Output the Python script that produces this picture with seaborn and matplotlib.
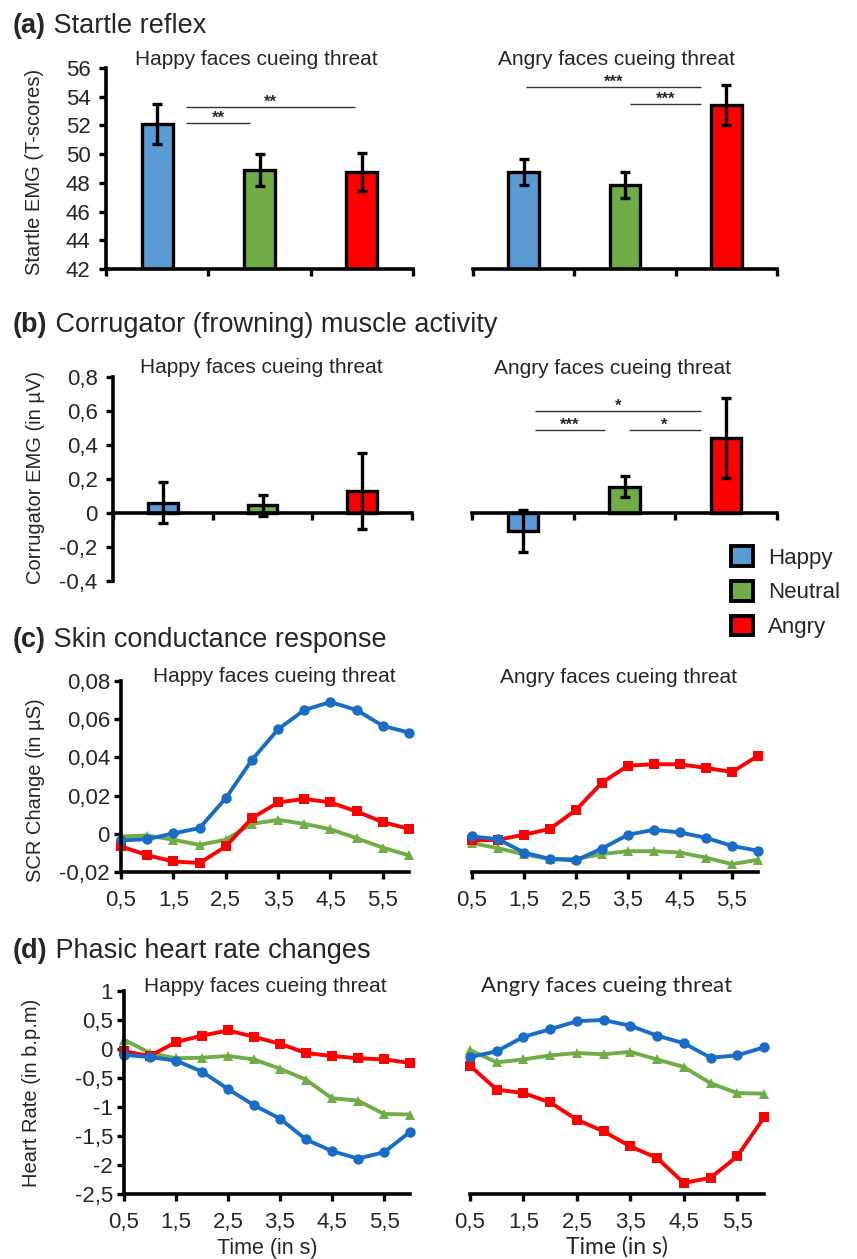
import pandas as pd
import matplotlib
matplotlib.use("Agg")
import matplotlib.pyplot as plt
import seaborn as sns
from matplotlib.patches import Patch
from matplotlib.ticker import FuncFormatter

conditions = ["Happy", "Neutral", "Angry"]

# (a) startle EMG (T-scores), mean and error
startle_happy = [52.1, 48.9, 48.75]
startle_happy_err = [1.4, 1.1, 1.3]
startle_angry = [48.75, 47.85, 53.4]
startle_angry_err = [0.9, 0.9, 1.4]

# (b) corrugator EMG (in µV)
corr_happy = [0.06, 0.045, 0.13]
corr_happy_err = [0.12, 0.06, 0.225]
corr_angry = [-0.105, 0.155, 0.44]
corr_angry_err = [0.125, 0.062, 0.235]

time_s = [0.5, 1.0, 1.5, 2.0, 2.5, 3.0, 3.5, 4.0, 4.5, 5.0, 5.5, 6.0]

# (c) SCR change, happy faces cueing threat
scr_hap_happy = [-0.0035, -0.0028, 0.0002, 0.003, 0.0186, 0.0387, 0.0547, 0.0648, 0.069, 0.0648, 0.0565, 0.053]
scr_hap_neutral = [-0.0014, -0.0009, -0.0031, -0.0058, -0.0031, 0.0052, 0.0073, 0.0052, 0.0024, -0.0023, -0.0073, -0.0113]
scr_hap_angry = [-0.0066, -0.0112, -0.0145, -0.0153, -0.0066, 0.0082, 0.0164, 0.0183, 0.0164, 0.0117, 0.0061, 0.0026]
# (c) SCR change, angry faces cueing threat
scr_ang_happy = [-0.0014, -0.0028, -0.0098, -0.0132, -0.0139, -0.0077, -0.0005, 0.0021, 0.0007, -0.0021, -0.0063, -0.0089]
scr_ang_neutral = [-0.0049, -0.0075, -0.0108, -0.0132, -0.0132, -0.0106, -0.0091, -0.0091, -0.0098, -0.0125, -0.0159, -0.0136]
scr_ang_angry = [-0.0035, -0.0031, -0.0005, 0.0026, 0.0125, 0.0268, 0.0357, 0.0364, 0.0364, 0.0345, 0.0324, 0.0408]

# (d) heart rate change, happy faces cueing threat
hr_hap_happy = [-0.10, -0.14, -0.20, -0.39, -0.69, -0.97, -1.20, -1.56, -1.76, -1.89, -1.78, -1.43]
hr_hap_neutral = [0.16, -0.07, -0.16, -0.15, -0.12, -0.18, -0.34, -0.53, -0.85, -0.89, -1.12, -1.13]
hr_hap_angry = [-0.04, -0.12, 0.12, 0.23, 0.32, 0.21, 0.09, -0.07, -0.12, -0.16, -0.18, -0.24]
# (d) heart rate change, angry faces cueing threat
hr_ang_happy = [-0.14, -0.04, 0.21, 0.34, 0.48, 0.50, 0.40, 0.23, 0.10, -0.15, -0.11, 0.03]
hr_ang_neutral = [-0.02, -0.23, -0.18, -0.11, -0.07, -0.09, -0.05, -0.18, -0.31, -0.59, -0.76, -0.77]
hr_ang_angry = [-0.29, -0.70, -0.76, -0.92, -1.22, -1.42, -1.68, -1.88, -2.31, -2.22, -1.85, -1.18]

# significance brackets: (x start, x end, y, label)
sig_a_happy = [(0.28, 0.91, 52.2, "**"), (0.28, 1.93, 53.3, "**")]
sig_a_angry = [(0.02, 1.75, 54.7, "***"), (1.05, 1.75, 53.5, "***")]
sig_b_angry = [(0.12, 1.75, 0.60, "*"), (0.12, 0.81, 0.49, "***"), (1.04, 1.75, 0.49, "*")]

bar_colors = {"Happy": "#5B9BD5", "Neutral": "#70AD47", "Angry": "#FF0000"}
line_colors = {"Happy": "#1A6DC6", "Neutral": "#70AD47", "Angry": "#FF0000"}
line_markers = {"Happy": "o", "Neutral": "^", "Angry": "s"}

sns.set_style("white")
plt.rcParams["font.family"] = ["Liberation Sans", "DejaVu Sans"]

W, H = 857, 1259
fig = plt.figure(figsize=(W / 100, H / 100), dpi=100)


def px_axes(x0, y0, x1, y1):
    return fig.add_axes([x0 / W, 1 - y1 / H, (x1 - x0) / W, (y1 - y0) / H])


def ftext(x, y, s, **kw):
    return fig.text(x / W, 1 - y / H, s, **kw)


def comma(v, pos=None):
    v = round(v, 4) + 0.0
    if v == 0:
        return "0"
    return f"{v:g}".replace(".", ",")


def style_axes(ax, show_y):
    sns.despine(ax=ax, left=not show_y)
    for side in ["left", "bottom"]:
        ax.spines[side].set_linewidth(2.6)
        ax.spines[side].set_color("black")
    ax.tick_params(axis="both", direction="out", width=2.4, length=5, color="black",
                   labelsize=16, pad=6, bottom=True, left=show_y, labelleft=show_y)
    ax.yaxis.set_major_formatter(FuncFormatter(comma))
    ax.set_xlabel("")
    ax.set_ylabel("")


def bar_panel(rect, vals, errs, ylim, yticks, show_y, sig=(), zero_axis=False):
    ax = px_axes(*rect)
    sns.barplot(x=conditions, y=vals, hue=conditions, palette=bar_colors, order=conditions,
                hue_order=conditions, width=0.3, saturation=1, edgecolor="black",
                linewidth=2.4, legend=False, ax=ax)
    ax.errorbar(range(3), vals, yerr=errs, fmt="none", ecolor="black",
                elinewidth=2.4, capsize=3.5, capthick=2.4, zorder=3)
    ax.set_xlim(-0.5, 2.5)
    ax.set_ylim(*ylim)
    ax.set_yticks(yticks)
    ax.set_xticks([-0.5, 0.5, 1.5, 2.5])
    ax.set_xticklabels([])
    style_axes(ax, show_y)
    if zero_axis:
        ax.spines["bottom"].set_position(("data", 0))
    for x0, x1, y, lab in sig:
        ax.plot([x0, x1], [y, y], color="#333333", lw=1.0, solid_capstyle="butt")
        ax.annotate(lab, xy=((x0 + x1) / 2, y), xytext=(0, 3.4), textcoords="offset points",
                    ha="center", va="center", fontsize=12, fontweight="bold",
                    color="#2a2a2a")
    return ax


def line_panel(rect, happy, neutral, angry, ylim, yticks, show_y):
    ax = px_axes(*rect)
    df = pd.DataFrame({
        "time": time_s * 3,
        "value": list(neutral) + list(angry) + list(happy),
        "condition": ["Neutral"] * 12 + ["Angry"] * 12 + ["Happy"] * 12,
    })
    sns.lineplot(data=df, x="time", y="value", hue="condition", style="condition",
                 palette=line_colors, markers=line_markers, dashes=False,
                 hue_order=["Neutral", "Angry", "Happy"], linewidth=2.8,
                 markersize=7.5, markeredgewidth=0, legend=False, clip_on=False, ax=ax)
    ax.set_xlim(0.5, 6.0)
    ax.set_ylim(*ylim)
    ax.set_yticks(yticks)
    ax.set_xticks([0.5, 1.5, 2.5, 3.5, 4.5, 5.5])
    style_axes(ax, show_y)
    ax.xaxis.set_major_formatter(FuncFormatter(comma))
    ax.tick_params(axis="y", pad=3)
    ax.tick_params(axis="x", pad=8)
    return ax


# (a) Startle reflex
bar_panel((106, 68, 413, 269), startle_happy, startle_happy_err, (42, 56),
          range(42, 57, 2), True, sig_a_happy)
bar_panel((473, 68, 777, 269), startle_angry, startle_angry_err, (42, 56),
          range(42, 57, 2), False, sig_a_angry)

# (b) Corrugator
b_ticks = [-0.4, -0.2, 0, 0.2, 0.4, 0.6, 0.8]
bar_panel((113, 377, 412, 581), corr_happy, corr_happy_err, (-0.4, 0.8),
          b_ticks, True, zero_axis=True)
bar_panel((472, 377, 777, 581), corr_angry, corr_angry_err, (-0.4, 0.8),
          b_ticks, False, sig_b_angry, zero_axis=True)

# (c) Skin conductance
c_ticks = [-0.02, 0, 0.02, 0.04, 0.06, 0.08]
line_panel((121, 681, 409, 872), scr_hap_happy, scr_hap_neutral, scr_hap_angry,
           (-0.02, 0.08), c_ticks, True)
line_panel((472, 681, 758, 872), scr_ang_happy, scr_ang_neutral, scr_ang_angry,
           (-0.02, 0.08), c_ticks, False)

# (d) Heart rate
d_ticks = [-2.5, -2, -1.5, -1, -0.5, 0, 0.5, 1]
line_panel((124, 991, 410, 1194), hr_hap_happy, hr_hap_neutral, hr_hap_angry,
           (-2.5, 1), d_ticks, True)
line_panel((470, 991, 764, 1194), hr_ang_happy, hr_ang_neutral, hr_ang_angry,
           (-2.5, 1), d_ticks, False)

# panel titles
titles = [(33, "(a)", " Startle reflex"),
          (332, "(b)", " Corrugator (frowning) muscle activity"),
          (647, "(c)", " Skin conductance response"),
          (958, "(d)", " Phasic heart rate changes")]
for y, tag, txt in titles:
    t = ftext(13, y, tag, fontsize=19.5, fontweight="bold", va="baseline")
    fig.add_artist(matplotlib.text.Annotation(txt, xy=(1, 0), xycoords=t, fontsize=19.5,
                                              ha="left", va="bottom"))

# subtitles
subs = [(256, 65, "Happy faces cueing threat"), (616, 65, "Angry faces cueing threat"),
        (261, 373, "Happy faces cueing threat"), (612, 374, "Angry faces cueing threat"),
        (274, 682, "Happy faces cueing threat"), (618, 683, "Angry faces cueing threat"),
        (265, 992, "Happy faces cueing threat")]
for x, y, s in subs:
    ftext(x, y, s, fontsize=15, ha="center", va="baseline")
ftext(607, 992, "Angry faces cueing threat", fontsize=16, ha="center", va="baseline",
      family=["Lato", "DejaVu Sans"])

# y labels
ylabels = [(35, 172, "Startle EMG (T-scores)"), (36, 478, "Corrugator EMG (in µV)"),
           (36, 790, "SCR Change (in µS)"), (32, 1093, "Heart Rate (in b.p.m)")]
for x, y, s in ylabels:
    ftext(x, y, s, fontsize=14.5, rotation=90, ha="center", va="center")

# x labels
ftext(267, 1254, "Time (in s)", fontsize=15.5, ha="center", va="baseline")
ftext(617, 1254, "Time (in s)", fontsize=16.5, ha="center", va="baseline",
      family=["Lato", "DejaVu Sans"])

# legend
handles = [Patch(facecolor=bar_colors[c], edgecolor="black", linewidth=2.8, label=c)
           for c in conditions]
fig.legend(handles=handles, loc="upper left", bbox_to_anchor=(731 / W, 1 - 546 / H),
           frameon=False, fontsize=16, handlelength=1.0, handleheight=1.0,
           handletextpad=0.65, labelspacing=0.55, borderpad=0, borderaxespad=0)

fig.savefig("out.png", dpi=100)
